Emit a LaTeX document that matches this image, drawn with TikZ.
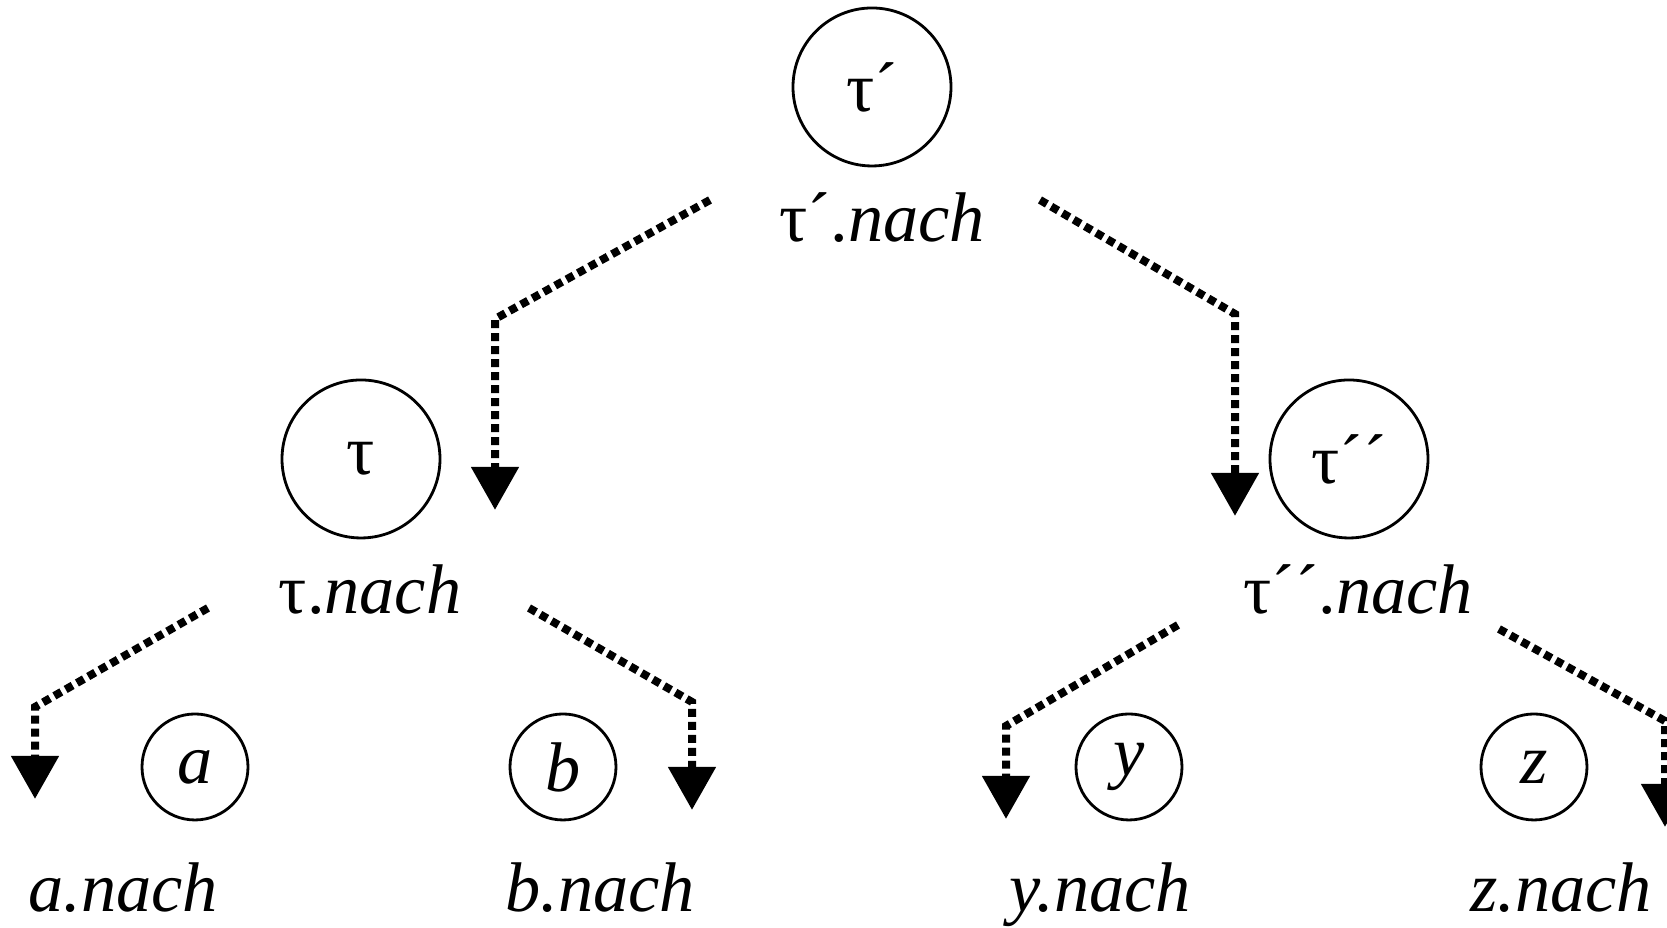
\documentclass[tikz,border=0pt]{standalone}
\usepackage{fontspec}
\setmainfont{Liberation Serif}[ItalicFont={Liberation Serif Italic}]
\usetikzlibrary{arrows.meta}

\tikzset{
  bigstate/.style={draw, circle, line width=0.8pt, minimum size=1.58cm, inner sep=0pt},
  smallstate/.style={draw, circle, line width=0.8pt, minimum size=1.06cm, inner sep=0pt},
  attr/.style={anchor=base},
  pass/.style={line width=0.08cm, dash pattern=on 0.08cm off 0.05cm,
    -{Triangle[width=0.46cm, length=0.43cm]}}
}

\begin{document}
\begin{tikzpicture}[font=\fontsize{20}{24}\selectfont]
    \useasboundingbox (0,0) rectangle (16.67,9.28);

    \node[bigstate] (T1) at (8.72,8.41) {τ´};
    \node[attr] (T1n) at (8.82,6.86) {τ´.\textit{nach}};
    \node[bigstate] (T0) at (3.61,4.69) {τ};
    \node[attr] (T0n) at (3.70,3.14) {τ.\textit{nach}};
    \node[bigstate] (T2) at (13.49,4.69) {τ´´};
    \node[attr] (T2n) at (13.58,3.14) {τ´´.\textit{nach}};

    \node[smallstate] (A) at (1.95,1.61) {\textit{a}};
    \node[smallstate] (B) at (5.63,1.61) {\textit{b}};
    \node[smallstate] (Y) at (11.29,1.61) {\textit{y}};
    \node[smallstate] (Z) at (15.34,1.61) {\textit{z}};
    \node[attr] (An) at (1.23,0.16) {\textit{a.nach}};
    \node[attr] (Bn) at (6.00,0.16) {\textit{b.nach}};
    \node[attr] (Yn) at (11.00,0.16) {\textit{y.nach}};
    \node[attr] (Zn) at (15.61,0.16) {\textit{z.nach}};

    % ends of the passing arrows
    \coordinate (T1l) at (7.10,7.28);  \coordinate (T0in) at (4.95,4.18);
    \coordinate (T1r) at (10.40,7.28); \coordinate (T2in) at (12.35,4.12);
    \coordinate (T0l) at (2.08,3.20);  \coordinate (Ain) at (0.35,1.29);
    \coordinate (T0r) at (5.29,3.20);  \coordinate (Bin) at (6.92,1.18);
    \coordinate (T2l) at (11.78,3.03); \coordinate (Yin) at (10.06,1.09);
    \coordinate (T2r) at (14.99,2.99); \coordinate (Zin) at (16.65,1.01);

    \draw[pass] (T1l) -- (4.95,6.09) -- (T0in);
    \draw[pass] (T1r) -- (12.35,6.14) -- (T2in);
    \draw[pass] (T0l) -- (0.35,2.21) -- (Ain);
    \draw[pass] (T0r) -- (6.92,2.26) -- (Bin);
    \draw[pass] (T2l) -- (10.06,2.02) -- (Yin);
    \draw[pass] (T2r) -- (16.65,2.07) -- (Zin);
\end{tikzpicture}
\end{document}
